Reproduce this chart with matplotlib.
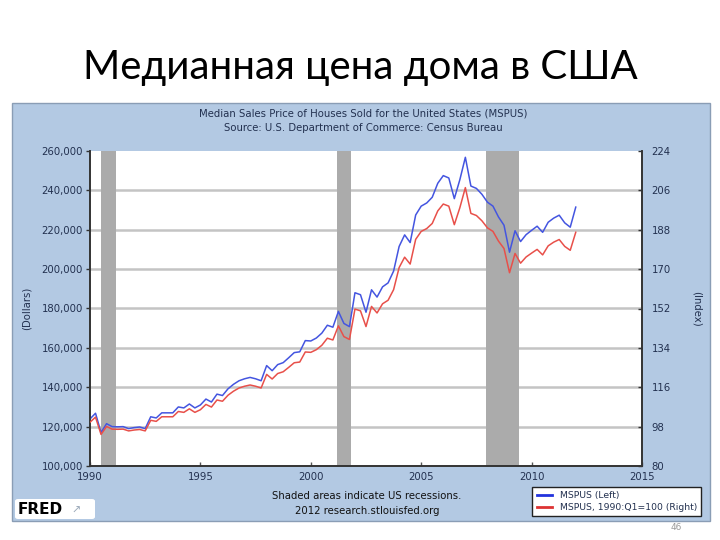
import matplotlib.pyplot as plt
import numpy as np
import pandas as pd
from matplotlib.patches import Rectangle, FancyBboxPatch
from matplotlib.lines import Line2D

# quarterly median sales price, 1990Q1 .. 2012Q1 (dollars)
quarters = pd.period_range('1990Q1', '2012Q1', freq='Q')
mspus = [
    123900, 126800, 117000, 121500,   # 1990
    120000, 119900, 120000, 119000,   # 1991
    119500, 119800, 119000, 125000,   # 1992
    124400, 127000, 127000, 127000,   # 1993
    130000, 129500, 131500, 129500,   # 1994
    131000, 134000, 132500, 136500,   # 1995
    135800, 139200, 141500, 143300,   # 1996
    144300, 145000, 144300, 143300,   # 1997
    151000, 148400, 151500, 152500,   # 1998
    155000, 157600, 158000, 163700,   # 1999
    163500, 165000, 167500, 171500,   # 2000
    170500, 178500, 172400, 170800,   # 2001
    188000, 187000, 178100, 189500,   # 2002
    185800, 191000, 193000, 199000,   # 2003
    211500, 217400, 213500, 227500,   # 2004
    232000, 233600, 236500, 243600,   # 2005
    247500, 246300, 235800, 245400,   # 2006
    256800, 242200, 241000, 238000,   # 2007
    234000, 232000, 226500, 222300,   # 2008
    208600, 219500, 214000, 217500,   # 2009
    219700, 221800, 218700, 223800,   # 2010
    225900, 227400, 223500, 221300,   # 2011
    231500,                           # 2012
]
recessions = [('1990-07', '1991-03'), ('2001-03', '2001-11'), ('2007-12', '2009-06')]

left_ticks = [100000, 120000, 140000, 160000, 180000, 200000, 220000, 240000, 260000]
right_ticks = [80, 98, 116, 134, 152, 170, 188, 206, 224]
year_ticks = [1990, 1995, 2000, 2005, 2010, 2015]

x = np.array([p.year + (p.quarter - 1) / 4 for p in quarters])
mspus = np.array(mspus, dtype=float)
index = mspus / mspus[0] * 100  # 1990:Q1 = 100


def dec_year(s):
    t = pd.Timestamp(s)
    return t.year + (t.month - 1) / 12


W, H = 720, 540
fig = plt.figure(figsize=(7.2, 5.4), dpi=100)
fig.patch.set_facecolor('white')

# slide title
fig.text(0.5, 1 - 68 / H, 'Медианная цена дома в США', ha='center', va='center',
         fontsize=29, family=['Lato', 'DejaVu Sans'], color='black')

# FRED panel background (behind the axes)
panel = Rectangle((12 / W, 1 - 521 / H), 698 / W, 418 / H, transform=fig.transFigure,
                  facecolor='#b3c9e3', edgecolor='#8a9db5', lw=1.0, zorder=-2)
fig.patches.append(panel)

navy = '#22304f'
fs = 7.3
fig.text(363 / W, 1 - 114 / H, 'Median Sales Price of Houses Sold for the United States (MSPUS)',
         ha='center', va='center', fontsize=fs, color=navy)
fig.text(363 / W, 1 - 128 / H, 'Source: U.S. Department of Commerce: Census Bureau',
         ha='center', va='center', fontsize=fs, color=navy)

ax = fig.add_axes([90 / W, 1 - 466 / H, 552 / W, 315 / H])
ax.set_facecolor('white')
ax2 = ax.twinx()

for a, b in recessions:
    ax.axvspan(dec_year(a), dec_year(b), color='#ababab', lw=0, zorder=1)

for t in left_ticks[1:-1]:
    ax.axhline(t, color='#c4c4c4', lw=1.8, zorder=0.5)

ax.plot(x, mspus, color='#4455e0', lw=1.1, zorder=3)
ax2.plot(x, index, color='#e8504a', lw=1.1, zorder=3)

ax.set_xlim(1990, 2015)
ax.set_ylim(100000, 260000)
ax2.set_ylim(80, 224)

ax.set_yticks(left_ticks)
ax.set_yticklabels([f'{v:,}' for v in left_ticks])
ax2.set_yticks(right_ticks)
ax2.set_yticklabels([str(v) for v in right_ticks])
ax.set_xticks(year_ticks)
ax.set_xticklabels([str(v) for v in year_ticks])

ax.tick_params(axis='y', direction='out', length=3, width=1, colors='#333333',
               labelcolor=navy, labelsize=fs, pad=2)
ax2.tick_params(axis='y', direction='in', length=3, width=1, colors='#333333',
                labelcolor=navy, labelsize=fs, pad=7)
ax.tick_params(axis='x', direction='in', length=3, width=1, colors='#555555',
               labelcolor=navy, labelsize=fs, pad=4)

for a in (ax, ax2):
    a.spines['top'].set_visible(False)
    for s in ('left', 'right', 'bottom'):
        a.spines[s].set_color('#333333')
        a.spines[s].set_linewidth(1.2)

ax.set_ylabel('(Dollars)', fontsize=fs, color=navy, labelpad=7)
ax2.set_ylabel('(Index)', fontsize=fs, color=navy, rotation=270, labelpad=22)

# bottom notes
fig.text(367 / W, 1 - 496 / H, 'Shaded areas indicate US recessions.', ha='center', va='center',
         fontsize=fs, color='#111111')
fig.text(367 / W, 1 - 511 / H, '2012 research.stlouisfed.org', ha='center', va='center',
         fontsize=fs, color='#111111')

# FRED logo
logo = FancyBboxPatch((15 / W, 1 - 519 / H), 80 / W, 20 / H, transform=fig.transFigure,
                      boxstyle='round,pad=0,rounding_size=0.004', facecolor='white',
                      edgecolor='none', zorder=-1)
fig.patches.append(logo)
fig.text(18 / W, 1 - 509 / H, 'FRED', ha='left', va='center', fontsize=11,
         fontweight='heavy', color='black')
fig.text(71 / W, 1 - 511 / H, '\u2197', ha='left', va='center', fontsize=8, color='#9aa8b8')

# legend box
leg = fig.legend(handles=[Line2D([], [], color='#2233dd', lw=2),
                          Line2D([], [], color='#dd3333', lw=2)],
                 labels=['MSPUS (Left)', 'MSPUS, 1990:Q1=100 (Right)'],
                 loc='lower right', bbox_to_anchor=(706 / W, 1 - 521 / H),
                 fontsize=6.7, frameon=True, fancybox=False, framealpha=1,
                 handlelength=1.6, borderpad=0.45, labelspacing=0.35, handletextpad=0.9)
leg.get_frame().set_edgecolor('#222222')
leg.get_frame().set_facecolor('white')
leg.get_frame().set_linewidth(1.0)
for t in leg.get_texts():
    t.set_color(navy)

# slide number
fig.text(676 / W, 1 - 528 / H, '46', ha='center', va='center', fontsize=6.5, color='#999999')

fig.savefig('out.png', dpi=100)
